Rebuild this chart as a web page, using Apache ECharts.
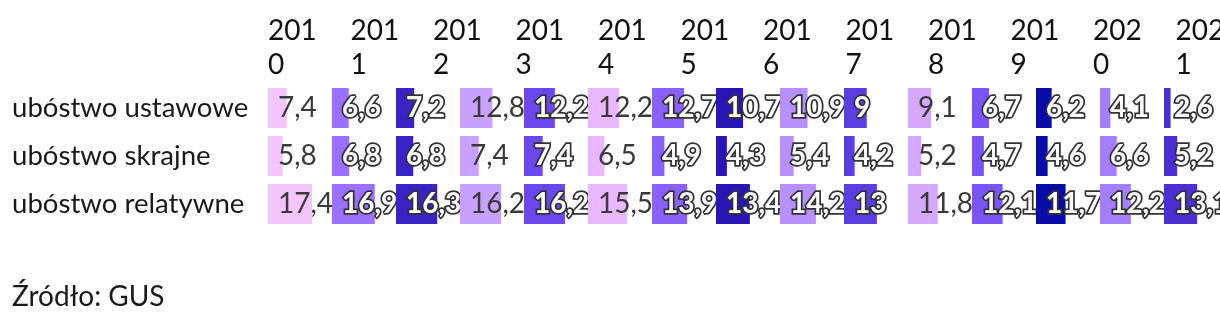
<!DOCTYPE html>
<html>
<head>
<meta charset="utf-8">
<script src="https://cdn.jsdelivr.net/npm/echarts@6/dist/echarts.min.js"></script>
<style>
  html, body { margin: 0; padding: 0; background: #fff; }
  #chart { width: 1220px; height: 330px; }
</style>
</head>
<body>
<div id="chart"></div>
<script>
// ---- data ----
const rowLabels = ['ubóstwo ustawowe', 'ubóstwo skrajne', 'ubóstwo relatywne'];
const yearLabels = ['2010', '2011', '2012', '2013', '2014', '2015', '2016', '2017', '2018', '2019', '2020', '2021'];
const ustawowe  = [7.4, 6.6, 7.2, 12.8, 12.2, 12.2, 12.7, 10.7, 10.9, 9, 9.1, 6.7, 6.2, 4.1, 2.6];
const skrajne   = [5.8, 6.8, 6.8, 7.4, 7.4, 6.5, 4.9, 4.3, 5.4, 4.2, 5.2, 4.7, 4.6, 6.6, 5.2];
const relatywne = [17.4, 16.9, 16.3, 16.2, 16.2, 15.5, 13.9, 13.4, 14.2, 13, 11.8, 12.1, 11.7, 12.2, 13.1];
const sourceText = 'Źródło: GUS';

// ---- styles ----
const colColors = ['#f3c6fb', '#9b70fb', '#3a22c4', '#c8a0fd', '#6a48ee', '#e9b8fc', '#8a62fb',
                   '#2a16b4', '#b890fb', '#5b3ee0', '#d5a8fb', '#7a55f6', '#0a0ca8', '#a57efc', '#4c2fd0'];
const outlined = [false, true, true, false, true, false, true, true, true, true, false, true, true, true, true];
const FONT = 'Lato';
const FS = 28;

const nCols = ustawowe.length;
const maxVal = Math.max(...ustawowe, ...skrajne, ...relatywne);
const colLeft = 268, colPitch = 64, barMaxW = 44, headPitch = 82.5;

const grids = [], xAxes = [], yAxes = [], series = [];
for (let i = 0; i < nCols; i++) {
  grids.push({ left: colLeft + colPitch * i, top: 84, width: barMaxW, height: 144, outerBoundsMode: 'none' });
  xAxes.push({ type: 'value', gridIndex: i, min: 0, max: maxVal, show: false });
  yAxes.push({
    type: 'category', gridIndex: i, data: rowLabels, inverse: true,
    axisLine: { show: false }, axisTick: { show: false }, splitLine: { show: false },
    axisLabel: i === 0 ? {
      show: true, align: 'left', margin: colLeft - 12,
      fontFamily: FONT, fontSize: 27.6, color: '#1a1a1a'
    } : { show: false }
  });
  const lbl = outlined[i]
    ? { color: '#ffffff', fontWeight: 'bold', textBorderColor: '#333333', textBorderWidth: 3.5 }
    : { color: '#3a3a3a' };
  series.push({
    type: 'bar', xAxisIndex: i, yAxisIndex: i,
    data: [ustawowe[i], skrajne[i], relatywne[i]],
    barWidth: 40,
    itemStyle: { color: colColors[i] },
    silent: true,
    label: Object.assign({
      show: true, position: 'insideLeft', distance: 10,
      fontFamily: FONT, fontSize: FS,
      formatter: p => String(p.value).replace('.', ',')
    }, lbl),
    z: 2 + i
  });
}

// header grid with year labels
const hIdx = nCols;
grids.push({ left: colLeft, top: 11, width: headPitch * (yearLabels.length - 1), height: 1, outerBoundsMode: 'none' });
xAxes.push({
  type: 'category', gridIndex: hIdx, data: yearLabels, boundaryGap: false, position: 'bottom',
  axisLine: { show: false }, axisTick: { show: false },
  axisLabel: {
    interval: 0, align: 'left', verticalAlign: 'top', margin: 2,
    fontFamily: FONT, fontSize: FS, color: '#111', lineHeight: 34,
    width: 56, overflow: 'breakAll'
  }
});
yAxes.push({ type: 'value', gridIndex: hIdx, show: false });

const chart = echarts.init(document.getElementById('chart'), null, { renderer: 'canvas' });
chart.setOption({
  animation: false,
  title: {
    text: sourceText, left: 7, top: 278,
    textStyle: { fontFamily: FONT, fontSize: FS, fontWeight: 'normal', color: '#1a1a1a' }
  },
  grid: grids,
  xAxis: xAxes,
  yAxis: yAxes,
  series: series
});
</script>
</body>
</html>
